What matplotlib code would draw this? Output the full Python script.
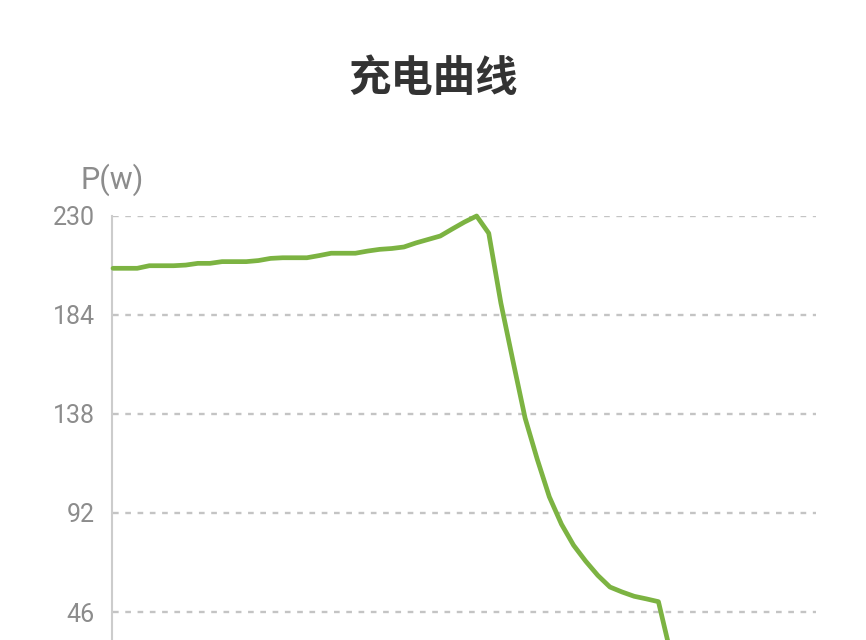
import matplotlib
matplotlib.use("Agg")
import matplotlib.pyplot as plt
from matplotlib.ticker import FixedLocator

# data (power in W per sample index)
power = [205.7, 205.7, 205.7, 206.9, 206.9, 206.9, 207.2, 208.0, 208.0, 208.8,
         208.8, 208.8, 209.3, 210.3, 210.6, 210.6, 210.6, 211.6, 212.7, 212.7,
         212.7, 213.7, 214.5, 214.9, 215.6, 217.5, 219.1, 220.7, 224.0, 227.2,
         230.0, 222.0, 189.6, 162.6, 136.1, 117.0, 99.5, 86.8, 77.0, 69.6,
         63.0, 57.6, 55.3, 53.3, 52.1, 50.8, 27.0]
y_ticks = [46, 92, 138, 184, 230]
title = "充电曲线"
y_name = "P(w)"

W, H = 866, 640
fig = plt.figure(figsize=(W / 100, H / 100), dpi=100)
fig.patch.set_facecolor("white")

left_px, right_px, top_px, zero_px = 113, 816, 216, 711
ax = fig.add_axes([left_px / W, (H - zero_px) / H,
                   (right_px - left_px) / W, (zero_px - top_px) / H])
ax.set_facecolor("white")

x = list(range(len(power)))
ax.plot(x, power, color="#7cb342", lw=3.4, solid_joinstyle="round",
        solid_capstyle="round", zorder=3, clip_on=False)

ax.set_xlim(0, 58)
ax.set_ylim(0, 230)
ax.yaxis.set_major_locator(FixedLocator(y_ticks))
ax.set_xticks([])
for s in ["top", "right", "bottom"]:
    ax.spines[s].set_visible(False)
ax.spines["left"].set_color("#cccccc")
ax.spines["left"].set_linewidth(1.5)
ax.spines["left"].set_position(("outward", 1))

ax.grid(axis="y", color="#c4c4c4", lw=1.7, linestyle=(0, (2.4, 2.8)), zorder=1)
ax.tick_params(axis="y", length=0, pad=12, labelsize=18, labelcolor="#8c8c8c")
for lab in ax.get_yticklabels():
    lab.set_family(["Roboto", "DejaVu Sans"])
    lab.set_fontweight("normal")

fig.text(112 / W, (H - 180) / H, y_name, ha="center", va="center",
         fontsize=22, color="#8c8c8c", family=["Roboto", "DejaVu Sans"],
         fontweight="normal")

fig.text(433 / W, (H - 79) / H, title, ha="center", va="center",
         fontsize=30.5, color="#333333", fontweight="bold",
         family=["Noto Sans CJK SC", "DejaVu Sans"])

fig.savefig("out.png", dpi=100, facecolor="white")
